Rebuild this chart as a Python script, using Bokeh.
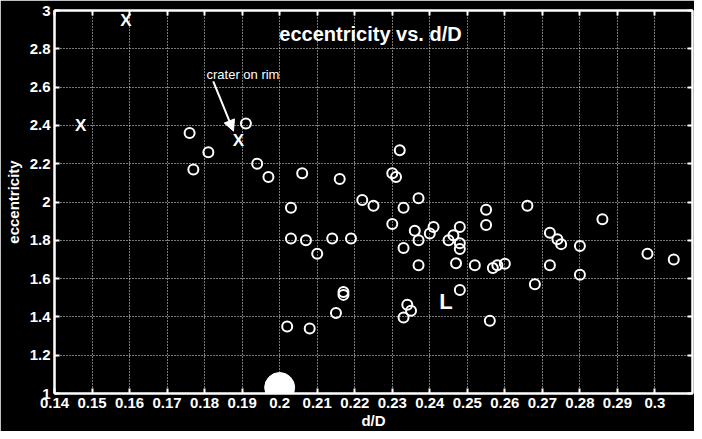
from bokeh.plotting import figure
from bokeh.models import (Range1d, FixedTicker, CustomJSTickFormatter, LinearAxis,
                          Label, Arrow, NormalHead, ColumnDataSource)
from bokeh.core.properties import value
from bokeh.embed import file_html
from bokeh.resources import INLINE

# ---------------- data ----------------
d_over_D = [0.176, 0.181, 0.177, 0.191, 0.194, 0.197, 0.206, 0.216, 0.203, 0.203,
            0.207, 0.214, 0.210, 0.202, 0.208, 0.215, 0.217, 0.217, 0.219, 0.232,
            0.230, 0.231, 0.222, 0.225, 0.237, 0.233, 0.255, 0.255, 0.230, 0.236,
            0.241, 0.240, 0.248, 0.237, 0.245, 0.2463, 0.248, 0.248, 0.233, 0.237,
            0.247, 0.252, 0.2568, 0.258, 0.260, 0.234, 0.235, 0.233, 0.248, 0.256,
            0.266, 0.286, 0.272, 0.274, 0.275, 0.280, 0.298, 0.305, 0.272, 0.280,
            0.268]
eccentricity = [2.36, 2.26, 2.17, 2.41, 2.20, 2.13, 2.15, 2.12, 1.97, 1.81,
                1.80, 1.81, 1.73, 1.35, 1.34, 1.42, 1.53, 1.515, 1.81, 2.27,
                2.15, 2.13, 2.01, 1.98, 2.02, 1.97, 1.96, 1.88, 1.885, 1.85,
                1.87, 1.835, 1.87, 1.80, 1.80, 1.826, 1.785, 1.755, 1.76, 1.67,
                1.68, 1.67, 1.655, 1.67, 1.677, 1.463, 1.432, 1.397, 1.54, 1.38,
                1.98, 1.91, 1.84, 1.805, 1.78, 1.77, 1.73, 1.70, 1.67, 1.62,
                1.57]

x_mark_d = [0.147, 0.159, 0.189]
x_mark_e = [2.40, 2.95, 2.32]

big_dot_d = [0.200]
big_dot_e = [1.031]

l_mark_d = [0.2443]
l_mark_e = [1.480]

x_ticks = [0.14, 0.15, 0.16, 0.17, 0.18, 0.19, 0.20, 0.21, 0.22, 0.23, 0.24,
           0.25, 0.26, 0.27, 0.28, 0.29, 0.30]
y_ticks = [1.0, 1.2, 1.4, 1.6, 1.8, 2.0, 2.2, 2.4, 2.6, 2.8, 3.0]

title_text = "eccentricity vs. d/D"
title_pos = (0.2242, 2.875)
note_text = "crater on rim"
note_pos = (0.1805, 2.664)
arrow_start = (0.1823, 2.630)
arrow_end = (0.1877, 2.370)

FONT = "Liberation Sans"

# ---------------- figure ----------------
p = figure(width=694, height=431,
           x_range=Range1d(0.14, 0.31), y_range=Range1d(1.0, 3.0),
           output_backend="svg", toolbar_location=None,
           background_fill_color="black", border_fill_color="black",
           min_border_left=54, min_border_right=2, min_border_top=10,
           min_border_bottom=38)

p.outline_line_color = "white"
p.outline_line_width = 2

fmt = CustomJSTickFormatter(code="return Number(tick.toFixed(4)).toString();")
blank_fmt = CustomJSTickFormatter(code="return '';")
xt = FixedTicker(ticks=x_ticks)
yt = FixedTicker(ticks=y_ticks)


def style_axis(ax, show_labels=True):
    ax.axis_line_color = "white"
    ax.axis_line_width = 2
    ax.major_tick_line_color = "white"
    ax.major_tick_line_width = 2
    ax.major_tick_in = 5
    ax.major_tick_out = 0
    ax.minor_tick_line_color = None
    ax.major_label_text_color = "white"
    ax.major_label_text_font = FONT
    ax.major_label_text_font_style = "bold"
    ax.major_label_text_font_size = "15px"
    ax.major_label_standoff = 4 if show_labels else 0
    ax.axis_label_text_color = "white"
    ax.axis_label_text_font = FONT
    ax.axis_label_text_font_style = "bold"
    ax.axis_label_text_font_size = "15px"
    ax.axis_label_standoff = 1


p.xaxis.ticker = xt
p.yaxis.ticker = yt
p.xaxis.formatter = fmt
p.yaxis.formatter = fmt
p.xaxis.axis_label = "d/D"
p.yaxis.axis_label = "eccentricity"
style_axis(p.xaxis[0])
style_axis(p.yaxis[0])
p.yaxis.axis_label_standoff = 5

top_ax = LinearAxis(ticker=xt, formatter=blank_fmt)
right_ax = LinearAxis(ticker=yt, formatter=blank_fmt)
style_axis(top_ax, False)
style_axis(right_ax, False)
p.add_layout(top_ax, "above")
p.add_layout(right_ax, "right")

for g in (p.xgrid[0], p.ygrid[0]):
    g.grid_line_color = "white"
    g.grid_line_dash = "1 2"
    g.grid_line_width = 1
    g.grid_line_alpha = 0.95
p.xgrid.ticker = xt
p.ygrid.ticker = yt

# ---------------- glyphs ----------------
src = ColumnDataSource(dict(x=d_over_D, y=eccentricity))
p.scatter("x", "y", source=src, marker="circle", size=10, line_width=2,
          line_color="white", fill_color=None)

p.scatter(big_dot_d, big_dot_e, marker="circle", size=30,
          fill_color="white", line_color="white")

p.text(x=x_mark_d, y=x_mark_e, text=["X"] * len(x_mark_d),
       text_font=value(FONT), text_font_style="bold", text_font_size="17px",
       text_color="white", text_align="center", text_baseline="middle")

p.text(x=l_mark_d, y=l_mark_e, text=["L"], text_font=value(FONT),
       text_font_style="bold", text_font_size="22px", text_color="white",
       text_align="center", text_baseline="alphabetic")

p.add_layout(Label(x=title_pos[0], y=title_pos[1], text=title_text,
                   text_font=FONT, text_font_style="bold", text_font_size="20px",
                   text_color="white", text_align="center",
                   text_baseline="alphabetic"))
p.add_layout(Label(x=note_pos[0], y=note_pos[1], text=note_text,
                   text_font=FONT, text_font_size="13px", text_color="white",
                   text_align="left", text_baseline="alphabetic"))
p.add_layout(Arrow(end=NormalHead(size=11, fill_color="white", line_color="white"),
                   x_start=arrow_start[0], y_start=arrow_start[1],
                   x_end=arrow_end[0], y_end=arrow_end[1],
                   line_color="white", line_width=2))

open("out.html", "w").write(file_html(p, INLINE))
